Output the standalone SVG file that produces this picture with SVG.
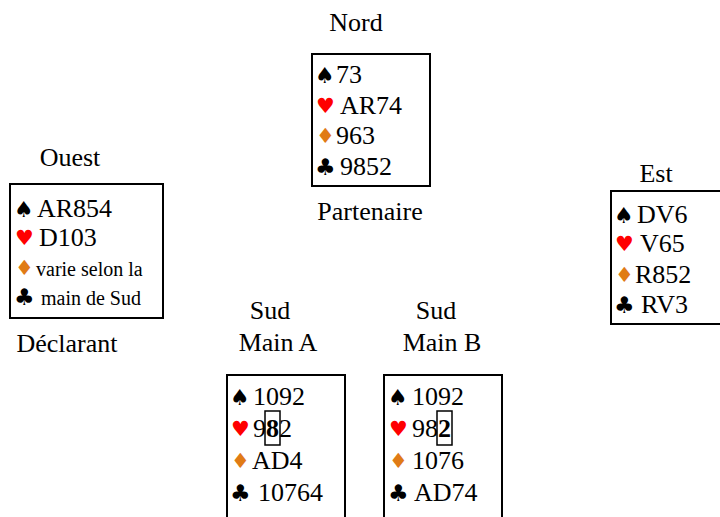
<svg xmlns="http://www.w3.org/2000/svg" width="720" height="517" viewBox="0 0 720 517">
<style>
text{font-family:"Liberation Serif","Times New Roman",serif;font-size:26px;fill:#000}
.box{fill:#fff;stroke:#000;stroke-width:2}
.hl{fill:none;stroke:#000;stroke-width:1.5}
text.s{font-family:"DejaVu Sans",sans-serif;font-size:22px}
text.c{font-family:"DejaVu Sans",sans-serif;font-size:23px}
text.h{font-family:"DejaVu Sans",sans-serif;font-size:21px;fill:#ff0000}
text.d{font-family:"DejaVu Sans",sans-serif;font-size:21px;fill:#e07b16}
.sm{font-size:20px}
</style>
<rect width="720" height="517" fill="#fff"/>
<g id="nord">
<text x="356" y="31" text-anchor="middle">Nord</text>
<rect class="box" x="312" y="54" width="118" height="132"/>
<text class="s" x="315" y="83">♠</text><text x="336" y="83">73</text>
<text class="h" x="316" y="113">♥</text><text x="340" y="114">AR74</text>
<text class="d" x="316" y="143">♦</text><text x="336" y="144">963</text>
<text class="c" x="315" y="175">♣</text><text x="340" y="175">9852</text>
<text x="370" y="220" text-anchor="middle">Partenaire</text>
</g>
<g id="ouest">
<text x="70" y="166" text-anchor="middle">Ouest</text>
<rect class="box" x="10" y="184" width="153" height="134"/>
<text class="s" x="14" y="217">♠</text><text x="37" y="217">AR854</text>
<text class="h" x="15" y="245">♥</text><text x="39" y="246">D103</text>
<text class="d" x="15" y="275">♦</text><text class="sm" x="36" y="276">varie selon la</text>
<text class="c" x="14" y="305">♣</text><text class="sm" x="41" y="305">main de Sud</text>
<text x="67" y="352" text-anchor="middle">Déclarant</text>
</g>
<g id="est">
<text x="656" y="182" text-anchor="middle">Est</text>
<rect class="box" x="611" y="191" width="112" height="133"/>
<text class="s" x="614" y="223">♠</text><text x="637" y="223">DV6</text>
<text class="h" x="615" y="251">♥</text><text x="640" y="252">V65</text>
<text class="d" x="615" y="282">♦</text><text x="635" y="283">R852</text>
<text class="c" x="614" y="313">♣</text><text x="641" y="313">RV3</text>
</g>
<g id="sudA">
<text x="270" y="319" text-anchor="middle">Sud</text>
<text x="278" y="351" text-anchor="middle">Main A</text>
<rect class="box" x="227" y="375" width="118" height="150"/>
<text class="s" x="230" y="405">♠</text><text x="253" y="405">1092</text>
<text class="h" x="231" y="436">♥</text><text x="253" y="437">9<tspan font-weight="bold">8</tspan>2</text>
<rect class="hl" x="265" y="411" width="15" height="34"/>
<text class="d" x="231" y="468">♦</text><text x="252" y="469">AD4</text>
<text class="c" x="230" y="501">♣</text><text x="258" y="501">10764</text>
</g>
<g id="sudB">
<text x="436" y="319" text-anchor="middle">Sud</text>
<text x="442" y="351" text-anchor="middle">Main B</text>
<rect class="box" x="384" y="375" width="118" height="150"/>
<text class="s" x="388" y="405">♠</text><text x="412" y="405">1092</text>
<text class="h" x="389" y="436">♥</text><text x="412" y="437">98<tspan font-weight="bold">2</tspan></text>
<rect class="hl" x="437" y="411" width="15" height="34"/>
<text class="d" x="389" y="468">♦</text><text x="412" y="469">1076</text>
<text class="c" x="388" y="501">♣</text><text x="414" y="501">AD74</text>
</g>
<g id="connectors"></g>
</svg>
